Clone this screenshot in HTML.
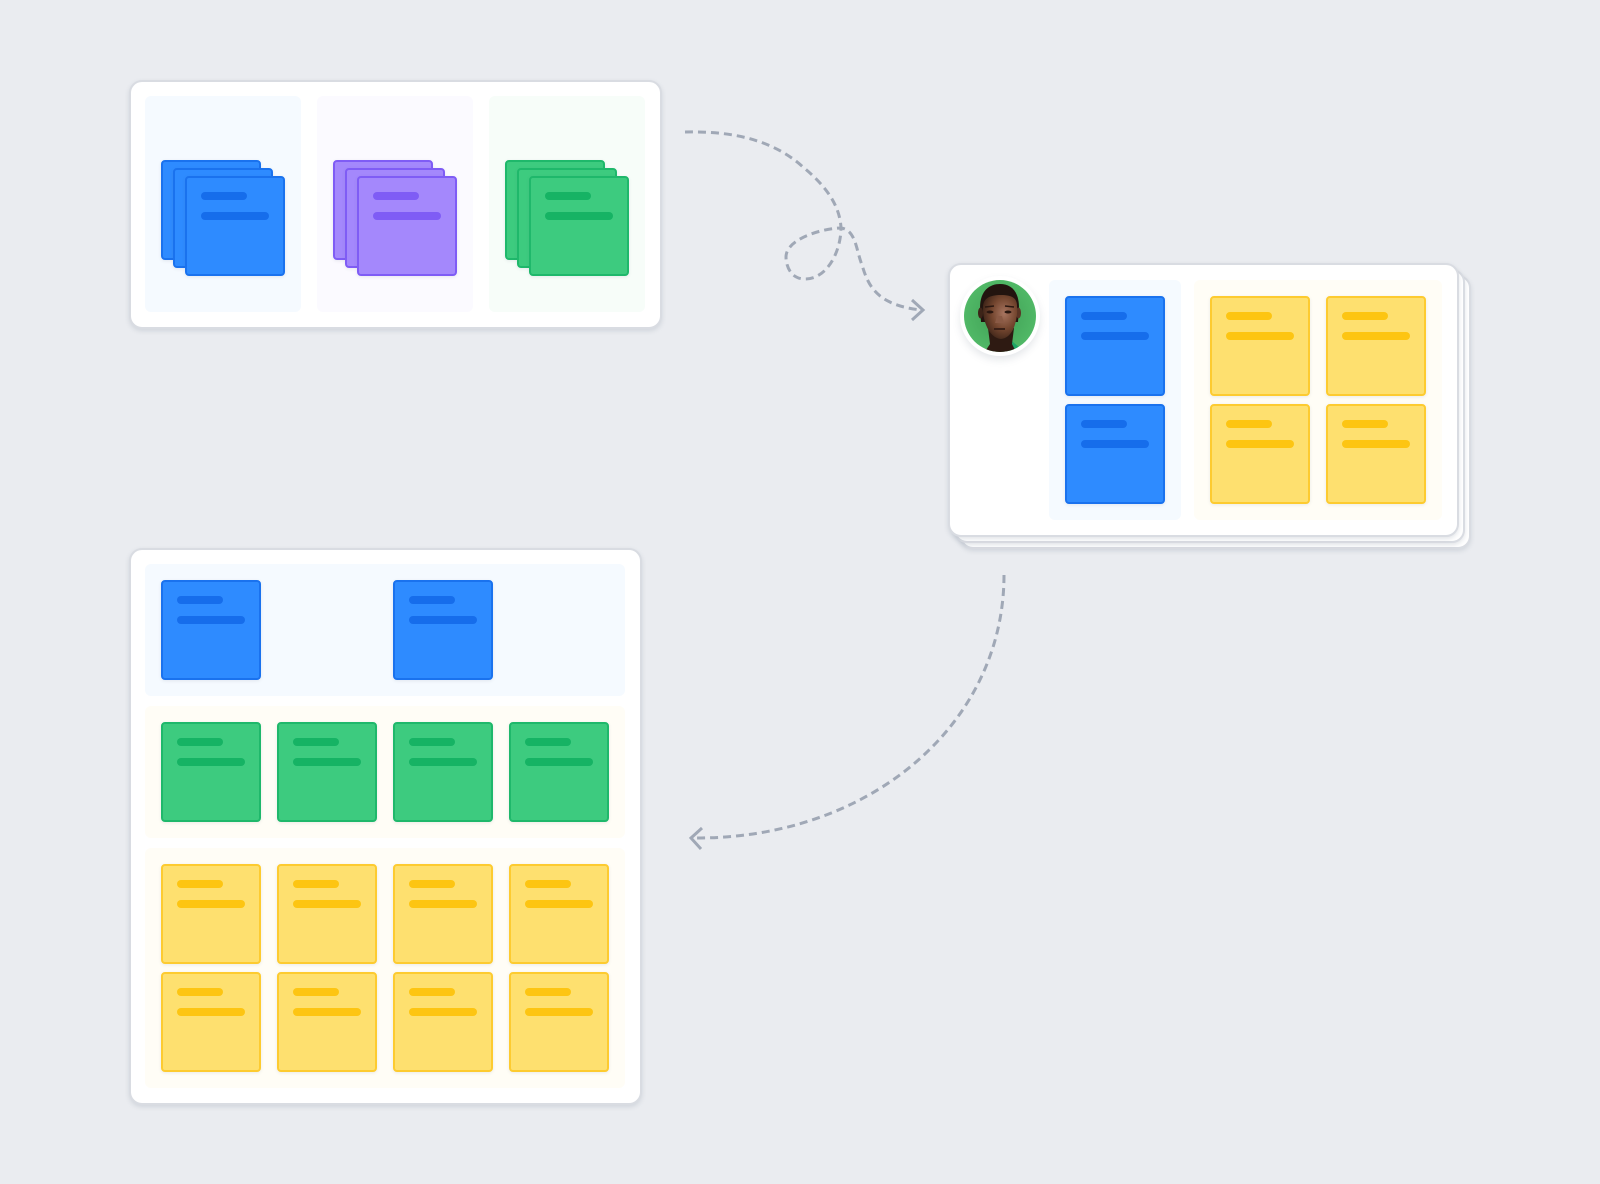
<!DOCTYPE html>
<html>
<head>
<meta charset="utf-8">
<style>
html,body{margin:0;padding:0;width:1600px;height:1184px;background:#eaecf0;overflow:hidden}
div{box-sizing:border-box;position:absolute}
.card{background:#fff;border:2px solid #d9dce2;border-radius:13px;box-shadow:0 2px 5px rgba(120,130,150,.22)}
.col{border-radius:6px}
.s{width:100px;height:100px;border-radius:4px;border:2px solid;box-shadow:0 1px 3px rgba(90,100,120,.12)}
.s::before,.s::after{content:"";position:absolute;left:14px;height:8px;border-radius:4px;background:inherit}
.s::before{top:14px;width:46px}
.s::after{top:34px;width:68px}
.b{background:#2e8bff;border-color:#1a72ee}.b::before,.b::after{background:#166deb}
.p{background:#a488fc;border-color:#7f5cf5}.p::before,.p::after{background:#7f5cf5}
.g{background:#3dcb7f;border-color:#1fb86b}.g::before,.g::after{background:#16b364}
.y{background:#fee06f;border-color:#fdcb30}.y::before,.y::after{background:#fdc512}
.n::before,.n::after{display:none}
svg{position:absolute;left:0;top:0}
</style>
</head>
<body>

<!-- top-left card -->
<div class="card" style="left:129px;top:80px;width:533px;height:249px"></div>
<div class="col" style="left:145px;top:96px;width:156px;height:216px;background:#f5faff"></div>
<div class="col" style="left:317px;top:96px;width:156px;height:216px;background:#fbfaff"></div>
<div class="col" style="left:489px;top:96px;width:156px;height:216px;background:#f7fdf9"></div>

<div class="s b n" style="left:161px;top:160px"></div>
<div class="s b n" style="left:173px;top:168px"></div>
<div class="s b" style="left:185px;top:176px"></div>

<div class="s p n" style="left:333px;top:160px"></div>
<div class="s p n" style="left:345px;top:168px"></div>
<div class="s p" style="left:357px;top:176px"></div>

<div class="s g n" style="left:505px;top:160px"></div>
<div class="s g n" style="left:517px;top:168px"></div>
<div class="s g" style="left:529px;top:176px"></div>

<!-- right stacked card -->
<div class="card" style="left:960px;top:275px;width:511px;height:274px"></div>
<div class="card" style="left:954px;top:269px;width:511px;height:274px"></div>
<div class="card" style="left:948px;top:263px;width:511px;height:274px"></div>
<div class="col" style="left:1049px;top:280px;width:132px;height:240px;background:#f5faff"></div>
<div class="col" style="left:1194px;top:280px;width:248px;height:240px;background:#fffdf6"></div>

<div class="s b" style="left:1065px;top:296px"></div>
<div class="s b" style="left:1065px;top:404px"></div>
<div class="s y" style="left:1210px;top:296px"></div>
<div class="s y" style="left:1326px;top:296px"></div>
<div class="s y" style="left:1210px;top:404px"></div>
<div class="s y" style="left:1326px;top:404px"></div>

<!-- avatar -->
<div style="left:960px;top:276px;width:80px;height:80px;border-radius:50%;background:#fff;box-shadow:0 4px 8px rgba(100,110,130,.16)"></div>
<svg width="1600" height="1184" viewBox="0 0 1600 1184" style="pointer-events:none">
  <defs>
    <clipPath id="av"><circle cx="1000" cy="316" r="36"/></clipPath>
    <radialGradient id="gbg" cx="50%" cy="50%" r="50%">
      <stop offset="0" stop-color="#3f9f55"/><stop offset="1" stop-color="#52bb68"/>
    </radialGradient>
    <radialGradient id="skin" cx="62%" cy="42%" r="65%">
      <stop offset="0" stop-color="#a87560"/><stop offset=".55" stop-color="#74462f"/><stop offset="1" stop-color="#3d2418"/>
    </radialGradient>
  </defs>
  <g clip-path="url(#av)">
    <rect x="960" y="276" width="80" height="80" fill="url(#gbg)"/>
    <path d="M1008 338 L1030 356 L1008 356 Z" fill="#1fa566"/>
    <path d="M982 356 L990 344 L988 328 L1014 328 L1012 344 L1018 356 Z" fill="#2e1a12"/>
    <path d="M980 308 C980 290 990 284 1000 284 C1011 284 1019 291 1019 308 L1018 322 L981 322 Z" fill="#22140f"/>
    <ellipse cx="980.5" cy="313" rx="2.5" ry="5.5" fill="#3d2418"/>
    <ellipse cx="1018.5" cy="313" rx="2.5" ry="5.5" fill="#5a3525"/>
    <path d="M983 306 C984 298 990 295 1001 295 C1012 295 1017 298 1017 306 C1018 318 1014 338 1001 339 C988 338 982 318 983 306Z" fill="url(#skin)"/>
    <path d="M985 307 L994 306 M1005 306 L1014 307" stroke="#2a1710" stroke-width="1.5" fill="none"/>
    <ellipse cx="990" cy="312" rx="3.5" ry="1.5" fill="#2a1710"/>
    <ellipse cx="1008" cy="312" rx="3.5" ry="1.5" fill="#2a1710"/>
    <path d="M997 316 L995 323 L1004 323 L1002 316Z" fill="#8a5a45"/>
    <path d="M994 329 L1005 329" stroke="#3a2017" stroke-width="2" fill="none"/>
  </g>
</svg>

<!-- bottom-left card -->
<div class="card" style="left:129px;top:548px;width:513px;height:557px"></div>
<div class="col" style="left:145px;top:564px;width:480px;height:132px;background:#f5faff"></div>
<div class="col" style="left:145px;top:706px;width:480px;height:132px;background:#fffdf6"></div>
<div class="col" style="left:145px;top:848px;width:480px;height:240px;background:#fffdf6"></div>

<div class="s b" style="left:161px;top:580px"></div>
<div class="s b" style="left:393px;top:580px"></div>

<div class="s g" style="left:161px;top:722px"></div>
<div class="s g" style="left:277px;top:722px"></div>
<div class="s g" style="left:393px;top:722px"></div>
<div class="s g" style="left:509px;top:722px"></div>

<div class="s y" style="left:161px;top:864px"></div>
<div class="s y" style="left:277px;top:864px"></div>
<div class="s y" style="left:393px;top:864px"></div>
<div class="s y" style="left:509px;top:864px"></div>
<div class="s y" style="left:161px;top:972px"></div>
<div class="s y" style="left:277px;top:972px"></div>
<div class="s y" style="left:393px;top:972px"></div>
<div class="s y" style="left:509px;top:972px"></div>

<!-- connectors -->
<svg width="1600" height="1184" viewBox="0 0 1600 1184" fill="none" stroke="#a0a8b6" stroke-width="3">
  <path d="M685 132 C725 131 770 137 803 167 C825 185 840 205 841 228 C841 250 828 279 805 279 C790 279 786 265 786 257 C786 238 825 228 841 228 C856 230 856 250 862 265 C868 285 876 305 921 310" stroke-dasharray="8 5"/>
  <path d="M912 300 L923 310 L912 320"/>
  <path d="M1004 575 C1004 724 870 840 692 838" stroke-dasharray="8 5"/>
  <path d="M702 828 L691 838 L701 849"/>
</svg>

</body>
</html>
